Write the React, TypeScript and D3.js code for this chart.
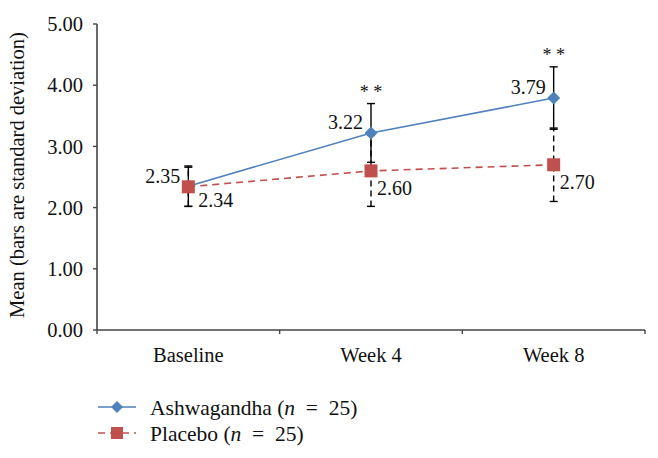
import React from "react";
import * as d3 from "d3";

const categories = ["Baseline", "Week 4", "Week 8"];
const ashMean = [2.35, 3.22, 3.79];
const ashSD = [0.33, 0.48, 0.51];
const plaMean = [2.34, 2.6, 2.7];
const plaSD = [0.32, 0.58, 0.6];
const yTicks = [0, 1, 2, 3, 4, 5];
const significance = ["", "* *", "* *"];
const seriesNames = ["Ashwagandha", "Placebo"];

const W = 658;
const H = 458;
const FONT = "'Liberation Serif', 'DejaVu Serif', serif";
const BLUE = "#4F81BD";
const RED = "#C0504D";

export default function App() {
  const x = d3.scaleBand<string>().domain(categories).range([97, 645]);
  const y = d3.scaleLinear().domain([0, 5]).range([330, 24]);
  const cx = (c: string) => (x(c) as number) + x.bandwidth() / 2;

  const line = d3
    .line<number>()
    .x((_, i) => cx(categories[i]))
    .y((d) => y(d));

  const diamond = (px: number, py: number, r: number) =>
    `M${px},${py - r}L${px + r},${py}L${px},${py + r}L${px - r},${py}Z`;

  const errBar = (px: number, lo: number, hi: number, dashed: boolean, key: string) => (
    <g key={key} stroke="#000" strokeWidth={1.4}>
      <line x1={px} x2={px} y1={y(lo)} y2={y(hi)} strokeDasharray={dashed ? "6,4" : undefined} />
      <line x1={px - 4} x2={px + 4} y1={y(lo)} y2={y(lo)} />
      <line x1={px - 4} x2={px + 4} y1={y(hi)} y2={y(hi)} />
    </g>
  );

  return (
    <svg width={W} height={H} style={{ position: "absolute", left: 0, top: 0, background: "#fff" }} fontFamily={FONT}>
      {/* y axis */}
      <line x1={97} x2={97} y1={y(5)} y2={y(0)} stroke="#444" strokeWidth={1.6} />
      {yTicks.map((t) => (
        <g key={t}>
          <line x1={93} x2={97} y1={y(t)} y2={y(t)} stroke="#444" strokeWidth={1.4} />
          <text x={83} y={y(t)} dy="0.35em" textAnchor="end" fontSize={20.5} fill="#111">
            {t.toFixed(2)}
          </text>
        </g>
      ))}
      <text
        transform={`translate(24,${(y(5) + y(0)) / 2 - 2}) rotate(-90)`}
        textAnchor="middle"
        fontSize={20.5}
        fill="#111"
      >
        Mean (bars are standard deviation)
      </text>
      {/* x axis */}
      <line x1={97} x2={645} y1={y(0)} y2={y(0)} stroke="#444" strokeWidth={1.6} />
      {[...categories.map((c) => x(c) as number), 645].map((v, i) => (
        <line key={i} x1={v} x2={v} y1={y(0)} y2={y(0) + 4} stroke="#444" strokeWidth={1.4} />
      ))}
      {categories.map((c) => (
        <text key={c} x={cx(c)} y={362} textAnchor="middle" fontSize={20.5} fill="#111">
          {c}
        </text>
      ))}

      {/* error bars */}
      {categories.map((c, i) => errBar(cx(c), plaMean[i] - plaSD[i], plaMean[i] + plaSD[i], true, "p" + i))}
      {categories.map((c, i) => errBar(cx(c), ashMean[i] - ashSD[i], ashMean[i] + ashSD[i], false, "a" + i))}

      {/* lines */}
      <path d={line(plaMean) as string} fill="none" stroke={RED} strokeWidth={1.6} strokeDasharray="7,5" />
      <path d={line(ashMean) as string} fill="none" stroke={BLUE} strokeWidth={1.6} />
      {ashMean.map((v, i) => (
        <path key={"ad" + i} d={diamond(cx(categories[i]), y(v), 6.5)} fill={BLUE} />
      ))}
      {plaMean.map((v, i) => (
        <rect key={"pr" + i} x={cx(categories[i]) - 6.5} y={y(v) - 6.5} width={13} height={13} fill={RED} />
      ))}

      {/* value labels */}
      <text x={cx(categories[0]) - 8} y={y(ashMean[0]) - 10} dy="0.35em" textAnchor="end" fontSize={20} fill="#111">
        {ashMean[0].toFixed(2)}
      </text>
      <text x={cx(categories[0]) + 10} y={y(plaMean[0]) + 13} dy="0.35em" textAnchor="start" fontSize={20} fill="#111">
        {plaMean[0].toFixed(2)}
      </text>
      {ashMean.slice(1).map((v, k) => (
        <text key={"al" + k} x={cx(categories[k + 1]) - 8} y={y(v) - 11} dy="0.35em" textAnchor="end" fontSize={20} fill="#111">
          {v.toFixed(2)}
        </text>
      ))}
      {plaMean.slice(1).map((v, k) => (
        <text key={"pl" + k} x={cx(categories[k + 1]) + 6} y={y(v) + 17} dy="0.35em" textAnchor="start" fontSize={20} fill="#111">
          {v.toFixed(2)}
        </text>
      ))}
      {significance.map((s, i) =>
        s ? (
          <text key={"s" + i} x={cx(categories[i])} y={y(ashMean[i] + ashSD[i]) - 6} textAnchor="middle" fontSize={18} fill="#111">
            {s}
          </text>
        ) : null
      )}

      {/* legend */}
      <g>
        <line x1={98} x2={136} y1={407} y2={407} stroke={BLUE} strokeWidth={1.6} />
        <path d={diamond(117, 407, 6)} fill={BLUE} />
        <text x={150} y={407} dy="0.35em" fontSize={21.5} fill="#111">
          {seriesNames[0]} (<tspan fontStyle="italic">n</tspan>{"\u2002=\u200225)"}
        </text>
        <line x1={98} x2={136} y1={433} y2={433} stroke={RED} strokeWidth={1.6} strokeDasharray="7,5" />
        <rect x={111} y={427} width={12} height={12} fill={RED} />
        <text x={150} y={433} dy="0.35em" fontSize={21.5} fill="#111">
          {seriesNames[1]} (<tspan fontStyle="italic">n</tspan>{"\u2002=\u200225)"}
        </text>
      </g>
    </svg>
  );
}
